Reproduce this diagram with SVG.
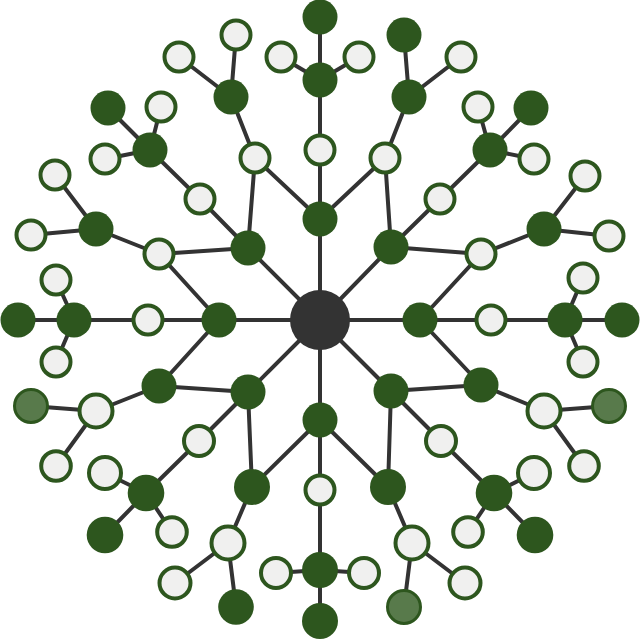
<svg xmlns="http://www.w3.org/2000/svg" width="640" height="640" viewBox="0 0 640 640">
<style>
.e line{stroke:#333;stroke-width:4;stroke-linecap:round}
.s{fill:#2d561e}
.o{fill:#f0f0ef;stroke:#2d561e;stroke-width:4}
.l{fill:#587a4b;stroke:#2d561e;stroke-width:3}
.c{fill:#333}
</style>
<rect width="640" height="640" fill="#fff"/>
<g id="connectors" class="e">
<line x1="320" y1="320" x2="320" y2="219"/><line x1="320" y1="219" x2="320" y2="150"/><line x1="320" y1="150" x2="320" y2="80"/><line x1="320" y1="80" x2="320" y2="17"/><line x1="320" y1="80" x2="281" y2="57"/><line x1="320" y1="80" x2="359" y2="57"/>
<line x1="320" y1="320" x2="420" y2="320"/><line x1="420" y1="320" x2="491" y2="320"/><line x1="491" y1="320" x2="565" y2="320"/><line x1="565" y1="320" x2="622" y2="320"/><line x1="565" y1="320" x2="583" y2="278"/><line x1="565" y1="320" x2="583" y2="362"/>
<line x1="320" y1="320" x2="320" y2="420"/><line x1="320" y1="420" x2="320" y2="490"/><line x1="320" y1="490" x2="320" y2="570"/><line x1="320" y1="570" x2="320" y2="620"/><line x1="320" y1="570" x2="276" y2="573"/><line x1="320" y1="570" x2="364" y2="573"/>
<line x1="320" y1="320" x2="219" y2="320"/><line x1="219" y1="320" x2="148" y2="320"/><line x1="148" y1="320" x2="74" y2="320"/><line x1="74" y1="320" x2="18" y2="320"/><line x1="74" y1="320" x2="56" y2="280"/><line x1="74" y1="320" x2="56" y2="362"/>
<line x1="320" y1="320" x2="248" y2="248"/><line x1="248" y1="248" x2="255" y2="158"/><line x1="248" y1="248" x2="200" y2="199"/><line x1="248" y1="248" x2="159" y2="254"/><line x1="255" y1="158" x2="320" y2="219"/><line x1="159" y1="254" x2="219" y2="320"/><line x1="255" y1="158" x2="231" y2="97"/><line x1="231" y1="97" x2="236" y2="35"/><line x1="231" y1="97" x2="179" y2="57"/><line x1="200" y1="199" x2="150" y2="150"/><line x1="150" y1="150" x2="108" y2="108"/><line x1="150" y1="150" x2="161" y2="107"/><line x1="150" y1="150" x2="105" y2="159"/><line x1="159" y1="254" x2="96" y2="229"/><line x1="96" y1="229" x2="55" y2="175"/><line x1="96" y1="229" x2="31" y2="235"/>
<line x1="320" y1="320" x2="391" y2="247"/><line x1="391" y1="247" x2="385" y2="158"/><line x1="391" y1="247" x2="440" y2="199"/><line x1="391" y1="247" x2="481" y2="254"/><line x1="385" y1="158" x2="320" y2="219"/><line x1="481" y1="254" x2="420" y2="320"/><line x1="385" y1="158" x2="409" y2="97"/><line x1="409" y1="97" x2="404" y2="35"/><line x1="409" y1="97" x2="461" y2="57"/><line x1="440" y1="199" x2="490" y2="150"/><line x1="490" y1="150" x2="478" y2="107"/><line x1="490" y1="150" x2="531" y2="108"/><line x1="490" y1="150" x2="534" y2="159"/><line x1="481" y1="254" x2="544" y2="229"/><line x1="544" y1="229" x2="585" y2="176"/><line x1="544" y1="229" x2="609" y2="236"/>
<line x1="320" y1="320" x2="248" y2="392"/><line x1="248" y1="392" x2="159" y2="386"/><line x1="248" y1="392" x2="199" y2="441"/><line x1="248" y1="392" x2="252" y2="487"/><line x1="159" y1="386" x2="219" y2="320"/><line x1="252" y1="487" x2="320" y2="420"/><line x1="159" y1="386" x2="96" y2="411"/><line x1="96" y1="411" x2="31" y2="406"/><line x1="96" y1="411" x2="56" y2="466"/><line x1="199" y1="441" x2="146" y2="493"/><line x1="146" y1="493" x2="105" y2="473"/><line x1="146" y1="493" x2="105" y2="535"/><line x1="146" y1="493" x2="172" y2="532"/><line x1="252" y1="487" x2="228" y2="543"/><line x1="228" y1="543" x2="175" y2="583"/><line x1="228" y1="543" x2="236" y2="607"/>
<line x1="320" y1="320" x2="391" y2="391"/><line x1="391" y1="391" x2="481" y2="385"/><line x1="391" y1="391" x2="441" y2="441"/><line x1="391" y1="391" x2="388" y2="487"/><line x1="481" y1="385" x2="420" y2="320"/><line x1="388" y1="487" x2="320" y2="420"/><line x1="481" y1="385" x2="544" y2="411"/><line x1="544" y1="411" x2="609" y2="406"/><line x1="544" y1="411" x2="584" y2="466"/><line x1="441" y1="441" x2="494" y2="493"/><line x1="494" y1="493" x2="534" y2="473"/><line x1="494" y1="493" x2="535" y2="535"/><line x1="494" y1="493" x2="468" y2="532"/><line x1="388" y1="487" x2="412" y2="543"/><line x1="412" y1="543" x2="465" y2="583"/><line x1="412" y1="543" x2="404" y2="607"/>
</g>
<g id="center"><circle class="c" cx="320" cy="320" r="30"/></g>
<g id="up">
<circle id="u1" class="s" cx="320" cy="219" r="17.5"/><circle id="u2" class="o" cx="320" cy="150" r="14.5"/><circle id="u3" class="s" cx="320" cy="80" r="17.5"/><circle id="u4" class="s" cx="320" cy="17" r="17.5"/><circle id="u5" class="o" cx="281" cy="57" r="14.5"/><circle id="u6" class="o" cx="359" cy="57" r="14.5"/>
</g>
<g id="right">
<circle id="r1" class="s" cx="420" cy="320" r="17.5"/><circle id="r2" class="o" cx="491" cy="320" r="14.5"/><circle id="r3" class="s" cx="565" cy="320" r="17.5"/><circle id="r4" class="s" cx="622" cy="320" r="17.5"/><circle id="r5" class="o" cx="583" cy="278" r="14.5"/><circle id="r6" class="o" cx="583" cy="362" r="14.5"/>
</g>
<g id="down">
<circle id="d1" class="s" cx="320" cy="420" r="17.5"/><circle id="d2" class="o" cx="320" cy="490" r="14.5"/><circle id="d3" class="s" cx="320" cy="570" r="18"/><circle id="d4" class="s" cx="320" cy="621" r="18"/><circle id="d5" class="o" cx="276" cy="573" r="15"/><circle id="d6" class="o" cx="364" cy="573" r="15"/>
</g>
<g id="left">
<circle id="l1" class="s" cx="219" cy="320" r="17.5"/><circle id="l2" class="o" cx="148" cy="320" r="14.5"/><circle id="l3" class="s" cx="74" cy="320" r="17.5"/><circle id="l4" class="s" cx="18" cy="320" r="17.5"/><circle id="l5" class="o" cx="56" cy="280" r="14.5"/><circle id="l6" class="o" cx="56" cy="362" r="14.5"/>
</g>
<g id="upleft">
<circle id="ul1" class="s" cx="248" cy="248" r="17.5"/><circle id="ul2" class="o" cx="255" cy="158" r="14.5"/><circle id="ul3" class="o" cx="200" cy="199" r="14.5"/><circle id="ul4" class="o" cx="159" cy="254" r="14.5"/>
<circle id="ul5" class="s" cx="231" cy="97" r="17.5"/><circle id="ul6" class="o" cx="236" cy="35" r="14.5"/><circle id="ul7" class="o" cx="179" cy="57" r="14.5"/>
<circle id="ul8" class="s" cx="150" cy="150" r="17.5"/><circle id="ul9" class="s" cx="108" cy="108" r="17.5"/><circle id="ul10" class="o" cx="161" cy="107" r="14.5"/><circle id="ul11" class="o" cx="105" cy="159" r="14.5"/>
<circle id="ul12" class="s" cx="96" cy="229" r="17.5"/><circle id="ul13" class="o" cx="55" cy="175" r="14.5"/><circle id="ul14" class="o" cx="31" cy="235" r="14.5"/>
</g>
<g id="upright">
<circle id="ur1" class="s" cx="391" cy="247" r="17.5"/><circle id="ur2" class="o" cx="385" cy="158" r="14.5"/><circle id="ur3" class="o" cx="440" cy="199" r="14.5"/><circle id="ur4" class="o" cx="481" cy="254" r="14.5"/>
<circle id="ur5" class="s" cx="409" cy="97" r="17.5"/><circle id="ur6" class="s" cx="404" cy="35" r="17.5"/><circle id="ur7" class="o" cx="461" cy="57" r="14.5"/>
<circle id="ur8" class="s" cx="490" cy="150" r="17.5"/><circle id="ur9" class="o" cx="478" cy="107" r="14.5"/><circle id="ur10" class="s" cx="531" cy="108" r="17.5"/><circle id="ur11" class="o" cx="534" cy="159" r="14.5"/>
<circle id="ur12" class="s" cx="544" cy="229" r="17.5"/><circle id="ur13" class="o" cx="585" cy="176" r="14.5"/><circle id="ur14" class="o" cx="609" cy="236" r="14.5"/>
</g>
<g id="downleft">
<circle id="dl1" class="s" cx="248" cy="392" r="17.5"/><circle id="dl2" class="s" cx="159" cy="386" r="17.5"/><circle id="dl3" class="o" cx="199" cy="441" r="15"/><circle id="dl4" class="s" cx="252" cy="487" r="18"/>
<circle id="dl5" class="o" cx="96" cy="411" r="16.5"/><circle id="dl6" class="l" cx="31" cy="406" r="16.5"/><circle id="dl7" class="o" cx="56" cy="466" r="14.8"/>
<circle id="dl8" class="s" cx="146" cy="493" r="18.3"/><circle id="dl9" class="o" cx="105" cy="473" r="16"/><circle id="dl10" class="s" cx="105" cy="535" r="18.3"/><circle id="dl11" class="o" cx="172" cy="532" r="14.8"/>
<circle id="dl12" class="o" cx="228" cy="543" r="16.5"/><circle id="dl13" class="o" cx="175" cy="583" r="15.5"/><circle id="dl14" class="s" cx="236" cy="607" r="17.8"/>
</g>
<g id="downright">
<circle id="dr1" class="s" cx="391" cy="391" r="17.5"/><circle id="dr2" class="s" cx="481" cy="385" r="17.5"/><circle id="dr3" class="o" cx="441" cy="441" r="15"/><circle id="dr4" class="s" cx="388" cy="487" r="18"/>
<circle id="dr5" class="o" cx="544" cy="411" r="16.5"/><circle id="dr6" class="l" cx="609" cy="406" r="16.5"/><circle id="dr7" class="o" cx="584" cy="466" r="14.8"/>
<circle id="dr8" class="s" cx="494" cy="493" r="18.3"/><circle id="dr9" class="o" cx="534" cy="473" r="16"/><circle id="dr10" class="s" cx="535" cy="535" r="18.3"/><circle id="dr11" class="o" cx="468" cy="532" r="14.8"/>
<circle id="dr12" class="o" cx="412" cy="543" r="16.5"/><circle id="dr13" class="o" cx="465" cy="583" r="15.5"/><circle id="dr14" class="l" cx="404" cy="607" r="16.5"/>
</g>
</svg>
